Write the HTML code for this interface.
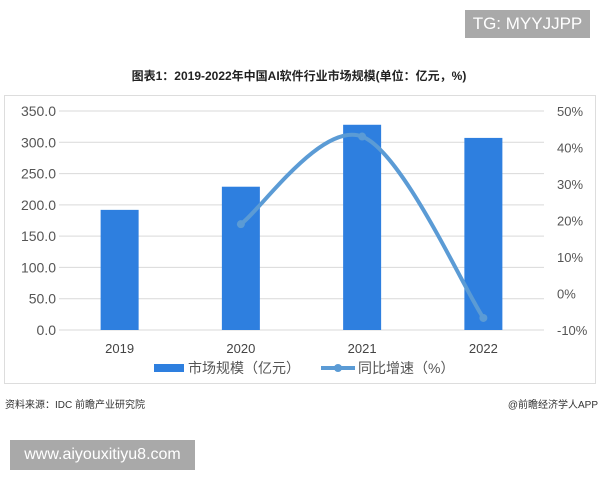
<!DOCTYPE html>
<html><head><meta charset="utf-8"><style>
body{margin:0;background:#fff;width:600px;height:480px;overflow:hidden;position:relative;font-family:"Liberation Sans","Noto Sans CJK SC",sans-serif}
.wm{position:absolute;background:#a9a9a9;color:#fff;font-size:17px;display:flex;align-items:center;justify-content:center}
</style></head><body>
<svg id="c" width="600" height="480" style="position:absolute;left:0;top:0">
<text x="299" y="80" text-anchor="middle" font-size="12" font-weight="bold" fill="#222">图表1：2019-2022年中国AI软件行业市场规模(单位：亿元，%)</text>
<rect x="4.5" y="95.5" width="591" height="288" fill="none" stroke="#ddd"/>
<text x="5" y="408" font-size="10" fill="#333">资料来源：IDC 前瞻产业研究院</text>
<text x="598" y="408" text-anchor="end" font-size="10" fill="#333">@前瞻经济学人APP</text>
</svg>
<div class="wm" style="left:465px;top:10px;width:125px;height:28px">TG: MYYJJPP</div>
<div class="wm" style="left:10px;top:440px;width:185px;height:30px;font-size:16px">www.aiyouxitiyu8.com</div>
<script>
const categories=["2019","2020","2021","2022"];
const marketSize=[192,229,328,307];
const growth=[null,19,43,-6.7];
const leftTicks=[0,50,100,150,200,250,300,350];
const rightTicks=[-10,0,10,20,30,40,50];
const svg=document.getElementById('c'),NS='http://www.w3.org/2000/svg';
const x0=59,x1=544,yTop=111,yBot=330;
const yL=v=>yBot-(v/350)*(yBot-yTop);
const yR=v=>yBot-((v+10)/60)*(yBot-yTop);
const band=(x1-x0)/categories.length;
const xc=i=>x0+band*(i+0.5);
function mk(t,a){const e=document.createElementNS(NS,t);for(const k in a)e.setAttribute(k,a[k]);svg.appendChild(e);return e;}
leftTicks.forEach(v=>{
 const g=mk('line',{x1:x0,x2:x1,y1:yL(v),y2:yL(v),stroke:'#d9d9d9','stroke-width':1});
 
 
 const t=mk('text',{x:56,y:yL(v)+5,'text-anchor':'end','font-size':14,fill:'#555'});t.textContent=v.toFixed(1);
 
 
});
rightTicks.forEach(v=>{
 const t=mk('text',{x:557,y:yR(v)+5,'font-size':13,fill:'#555'});t.textContent=v+'%';
 
 
});
categories.forEach((c,i)=>{
 const b=mk('rect',{x:xc(i)-19,y:yL(marketSize[i]),width:38,height:yBot-yL(marketSize[i]),fill:'#2e7fdf'});
 
 
 const t=mk('text',{x:xc(i),y:353,'text-anchor':'middle','font-size':13,fill:'#444'});t.textContent=c;
 
 
});
const pts=[];growth.forEach((g,i)=>{if(g!==null)pts.push([xc(i),yR(g)]);});
let d='M'+pts[0][0]+','+pts[0][1];
for(let i=0;i<pts.length-1;i++){
 const p0=pts[i-1]||pts[i],p1=pts[i],p2=pts[i+1],p3=pts[i+2]||p2,k=1/6;
 d+=` C${p1[0]+(p2[0]-p0[0])*k},${p1[1]+(p2[1]-p0[1])*k} ${p2[0]-(p3[0]-p1[0])*k},${p2[1]-(p3[1]-p1[1])*k} ${p2[0]},${p2[1]}`;
}
const ln=mk('path',{d:d,fill:'none',stroke:'#5b9bd5','stroke-width':4});


pts.forEach(p=>{const m=mk('circle',{cx:p[0],cy:p[1],r:4,fill:'#5b9bd5'});
 
 });
const ls=mk('rect',{x:154,y:364,width:30,height:8,fill:'#2e7fdf'});


const lt=mk('text',{x:188,y:373,'font-size':14,fill:'#555'});lt.textContent='市场规模（亿元）';


const ll=mk('line',{x1:321,x2:355,y1:368,y2:368,stroke:'#5b9bd5','stroke-width':4});


const lc=mk('circle',{cx:338,cy:368,r:4,fill:'#5b9bd5'});


const lt2=mk('text',{x:358,y:373,'font-size':14,fill:'#555'});lt2.textContent='同比增速（%）';


</script>
</body></html>
